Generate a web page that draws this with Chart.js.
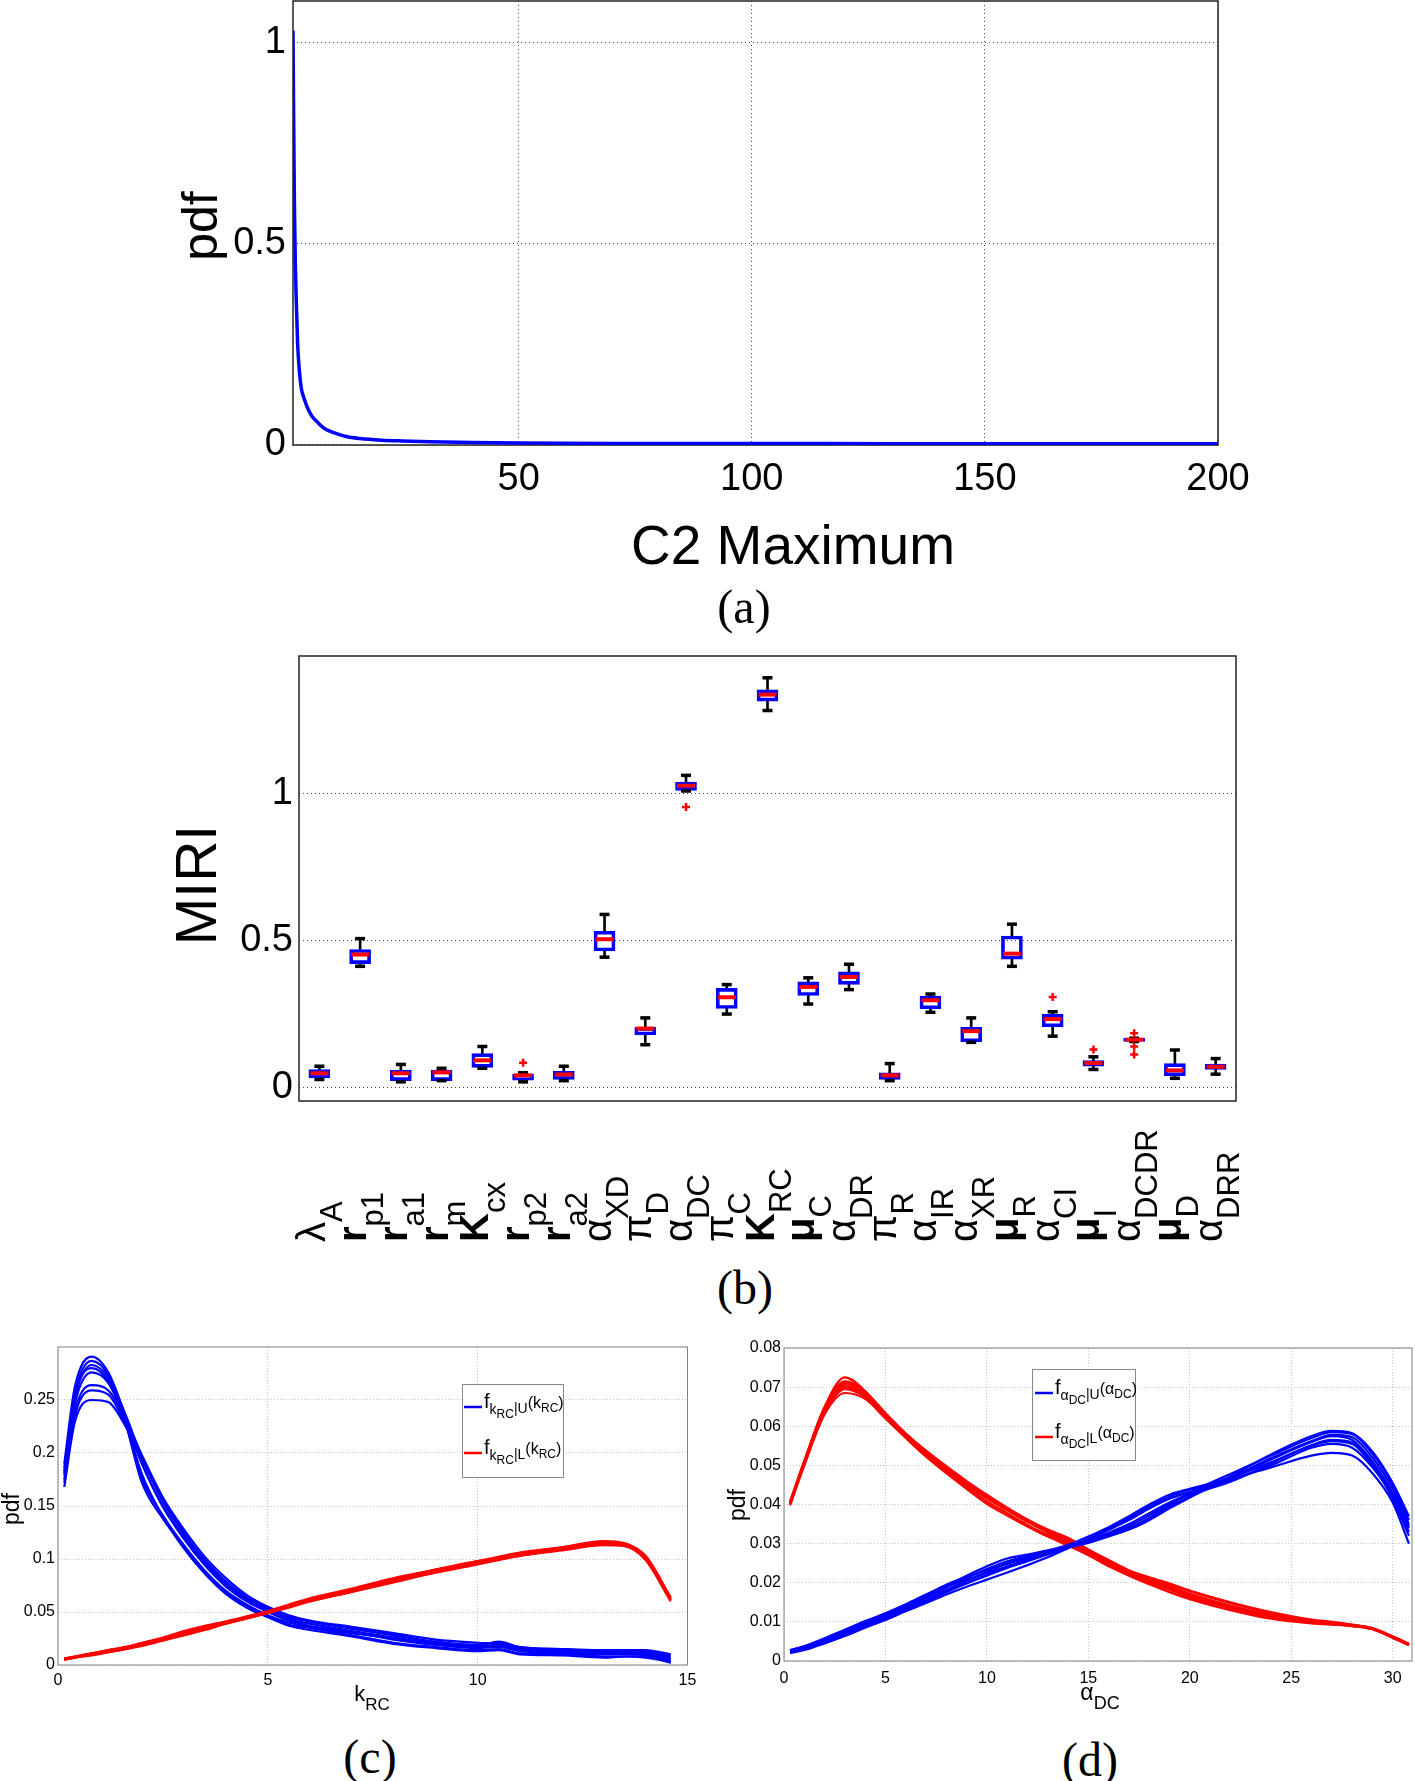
<!DOCTYPE html>
<html>
<head>
<meta charset="utf-8">
<script src="https://cdn.jsdelivr.net/npm/chart.js@4.4.1/dist/chart.umd.min.js"></script>
<style>
  body { margin: 0; background: #fff; width: 1415px; height: 1781px; position: relative; overflow: hidden; }
  canvas { position: absolute; }
  .cap { position: absolute; font: 48px "Liberation Serif", "Times New Roman", serif; line-height: 1; transform: translate(-50%, -50%); color: #000; }
</style>
</head>
<body>
<canvas id="chartA" width="1415" height="590" style="left:0;top:0"></canvas>
<canvas id="chartB" width="1415" height="620" style="left:0;top:640px"></canvas>
<canvas id="chartC" width="707" height="390" style="left:0;top:1330px"></canvas>
<canvas id="chartD" width="708" height="390" style="left:707px;top:1330px"></canvas>
<div class="cap" style="left:744px;top:607px">(a)</div>
<div class="cap" style="left:745px;top:1288px">(b)</div>
<div class="cap" style="left:370px;top:1757px">(c)</div>
<div class="cap" style="left:1090px;top:1760px">(d)</div>

<script>
// Datos del panel (a): pdf del máximo de C2
const c2Max = [1.6, 1.65, 1.75, 1.9, 2.1, 2.3, 2.6, 3.0, 3.4, 4.0, 4.8, 5.6, 7.0, 8.6, 10.5, 13, 16, 20.6, 25, 31, 40, 50, 70, 100, 130, 160, 200];
const c2Pdf = [1.03, 0.95, 0.8, 0.6, 0.45, 0.36, 0.25, 0.18, 0.14, 0.115, 0.09, 0.073, 0.055, 0.039, 0.03, 0.021, 0.016, 0.012, 0.01, 0.008, 0.006, 0.005, 0.004, 0.004, 0.003, 0.003, 0.003];
const c2XTicks = [50, 100, 150, 200];
const c2YTicks = [0, 0.5, 1];

// Datos del panel (b): boxplot del MIRI por parámetro
const miriSymbols = ['λ', 'r', 'r', 'r', 'K', 'r', 'r', 'α', 'π', 'α', 'π', 'K', 'μ', 'α', 'π', 'α', 'α', 'μ', 'α', 'μ', 'α', 'μ', 'α'];
const miriSubs = ['A', 'p1', 'a1', 'm', 'cx', 'p2', 'a2', 'XD', 'D', 'DC', 'C', 'RC', 'C', 'DR', 'R', 'IR', 'XR', 'R', 'CI', 'I', 'DCDR', 'D', 'DRR'];
const miriHigh = [0.073, 0.506, 0.079, 0.066, 0.140, 0.051, 0.073, 0.588, 0.237, 1.060, 0.350, 1.391, 0.373, 0.419, 0.082, 0.318, 0.237, 0.555, 0.258, 0.105, 0.168, 0.128, 0.099];
const miriQ3 = [0.062, 0.469, 0.060, 0.060, 0.116, 0.046, 0.056, 0.531, 0.205, 1.037, 0.337, 1.350, 0.359, 0.393, 0.051, 0.311, 0.205, 0.515, 0.250, 0.092, 0.168, 0.082, 0.080];
const miriMedian = [0.049, 0.452, 0.049, 0.052, 0.093, 0.042, 0.045, 0.504, 0.201, 1.025, 0.307, 1.334, 0.342, 0.376, 0.042, 0.297, 0.192, 0.455, 0.233, 0.084, 0.163, 0.059, 0.071];
const miriQ1 = [0.034, 0.421, 0.024, 0.024, 0.069, 0.026, 0.028, 0.464, 0.179, 1.009, 0.269, 1.312, 0.313, 0.351, 0.028, 0.268, 0.156, 0.436, 0.207, 0.073, 0.157, 0.040, 0.062];
const miriLow = [0.028, 0.412, 0.020, 0.024, 0.066, 0.020, 0.024, 0.443, 0.146, 1.007, 0.250, 1.280, 0.284, 0.333, 0.024, 0.256, 0.154, 0.412, 0.175, 0.062, 0.157, 0.032, 0.046];
const miriOutlierIdx = [6, 10, 19, 20, 21, 21, 21];
const miriOutlierVal = [0.085, 0.953, 0.308, 0.130, 0.185, 0.140, 0.113];
const miriYTicks = [0, 0.5, 1];

// Datos del panel (c): pdf de k_RC
const kRcX = [0.15, 0.4, 0.8, 1.2, 1.6, 2.0, 2.5, 3.0, 3.5, 4.0, 4.5, 5.0, 5.5, 6.0, 7.0, 8.0, 9.0, 10.0, 10.5, 11.0, 12.0, 13.0, 13.5, 14.0, 14.6];
const kRcPdfU = [
  [0.190, 0.262, 0.291, 0.276, 0.236, 0.190, 0.150, 0.121, 0.096, 0.076, 0.062, 0.052, 0.045, 0.041, 0.034, 0.028, 0.022, 0.019, 0.021, 0.017, 0.014, 0.013, 0.012, 0.012, 0.007],
  [0.186, 0.256, 0.287, 0.273, 0.230, 0.176, 0.141, 0.113, 0.089, 0.070, 0.057, 0.047, 0.040, 0.036, 0.030, 0.025, 0.020, 0.017, 0.018, 0.015, 0.012, 0.011, 0.011, 0.010, 0.005],
  [0.181, 0.251, 0.283, 0.271, 0.237, 0.196, 0.154, 0.124, 0.099, 0.079, 0.064, 0.053, 0.045, 0.041, 0.035, 0.029, 0.021, 0.018, 0.022, 0.017, 0.015, 0.013, 0.014, 0.013, 0.009],
  [0.179, 0.246, 0.276, 0.266, 0.229, 0.172, 0.138, 0.112, 0.088, 0.069, 0.056, 0.046, 0.038, 0.035, 0.028, 0.021, 0.017, 0.014, 0.015, 0.011, 0.010, 0.008, 0.008, 0.007, 0.003],
  [0.175, 0.239, 0.264, 0.259, 0.233, 0.198, 0.158, 0.128, 0.102, 0.082, 0.066, 0.055, 0.047, 0.042, 0.036, 0.030, 0.024, 0.021, 0.020, 0.016, 0.015, 0.014, 0.014, 0.014, 0.010],
  [0.172, 0.235, 0.259, 0.255, 0.228, 0.190, 0.149, 0.119, 0.094, 0.074, 0.060, 0.050, 0.042, 0.037, 0.031, 0.024, 0.019, 0.016, 0.017, 0.013, 0.011, 0.010, 0.010, 0.009, 0.004],
  [0.168, 0.229, 0.250, 0.248, 0.226, 0.194, 0.156, 0.125, 0.098, 0.077, 0.062, 0.051, 0.043, 0.039, 0.032, 0.026, 0.020, 0.017, 0.019, 0.014, 0.013, 0.011, 0.012, 0.011, 0.006],
  [0.183, 0.253, 0.280, 0.268, 0.231, 0.180, 0.140, 0.110, 0.086, 0.067, 0.054, 0.045, 0.037, 0.033, 0.027, 0.020, 0.016, 0.013, 0.014, 0.010, 0.009, 0.007, 0.008, 0.008, 0.002]
];
const kRcPdfL = [
  [0.005, 0.007, 0.010, 0.013, 0.016, 0.019, 0.024, 0.030, 0.035, 0.040, 0.045, 0.050, 0.056, 0.062, 0.071, 0.080, 0.089, 0.097, 0.101, 0.104, 0.109, 0.115, 0.113, 0.101, 0.062],
  [0.006, 0.008, 0.011, 0.014, 0.017, 0.021, 0.026, 0.032, 0.037, 0.041, 0.046, 0.051, 0.057, 0.063, 0.072, 0.082, 0.090, 0.098, 0.102, 0.106, 0.111, 0.117, 0.115, 0.103, 0.064],
  [0.005, 0.007, 0.010, 0.012, 0.015, 0.018, 0.023, 0.028, 0.033, 0.039, 0.044, 0.049, 0.055, 0.060, 0.069, 0.078, 0.087, 0.095, 0.099, 0.103, 0.108, 0.113, 0.112, 0.099, 0.060],
  [0.006, 0.007, 0.010, 0.013, 0.016, 0.020, 0.025, 0.031, 0.036, 0.041, 0.045, 0.050, 0.056, 0.061, 0.070, 0.079, 0.088, 0.096, 0.100, 0.105, 0.110, 0.116, 0.114, 0.102, 0.063],
  [0.005, 0.007, 0.009, 0.012, 0.015, 0.019, 0.024, 0.029, 0.034, 0.039, 0.044, 0.049, 0.054, 0.060, 0.069, 0.079, 0.088, 0.096, 0.100, 0.103, 0.109, 0.114, 0.113, 0.100, 0.061],
  [0.006, 0.008, 0.011, 0.014, 0.017, 0.020, 0.025, 0.031, 0.036, 0.040, 0.045, 0.050, 0.055, 0.062, 0.071, 0.081, 0.090, 0.098, 0.101, 0.105, 0.111, 0.116, 0.114, 0.100, 0.062]
];
const kRcXTicks = [0, 5, 10, 15];
const kRcYTicks = [0, 0.05, 0.1, 0.15, 0.2, 0.25];

// Datos del panel (d): pdf de alpha_DC
const aDcX = [0.3, 1, 2, 3, 4, 5, 6, 7, 8, 9, 10, 11, 12, 13, 14, 15, 16, 17, 18, 19, 20, 22, 24, 26, 27, 28, 29, 30, 30.8];
const aDcPdfU = [
  [0.0025, 0.0034, 0.0052, 0.0073, 0.0095, 0.0116, 0.0138, 0.0162, 0.0188, 0.0212, 0.0235, 0.0255, 0.0268, 0.0280, 0.0292, 0.0305, 0.0322, 0.0340, 0.0365, 0.0395, 0.0420, 0.0465, 0.0515, 0.0560, 0.0575, 0.0565, 0.0510, 0.0430, 0.0345],
  [0.0022, 0.0030, 0.0048, 0.0068, 0.0088, 0.0108, 0.0130, 0.0152, 0.0176, 0.0198, 0.0218, 0.0238, 0.0255, 0.0272, 0.0290, 0.0312, 0.0335, 0.0360, 0.0390, 0.0415, 0.0432, 0.0462, 0.0500, 0.0545, 0.0555, 0.0545, 0.0495, 0.0420, 0.0330],
  [0.0028, 0.0038, 0.0058, 0.0080, 0.0102, 0.0122, 0.0145, 0.0170, 0.0195, 0.0215, 0.0232, 0.0248, 0.0262, 0.0276, 0.0290, 0.0302, 0.0318, 0.0338, 0.0365, 0.0398, 0.0430, 0.0478, 0.0525, 0.0570, 0.0585, 0.0580, 0.0530, 0.0450, 0.0360],
  [0.0020, 0.0028, 0.0045, 0.0064, 0.0085, 0.0105, 0.0127, 0.0148, 0.0170, 0.0190, 0.0208, 0.0226, 0.0245, 0.0265, 0.0288, 0.0312, 0.0338, 0.0365, 0.0395, 0.0420, 0.0438, 0.0465, 0.0495, 0.0525, 0.0532, 0.0525, 0.0480, 0.0405, 0.0300],
  [0.0026, 0.0036, 0.0055, 0.0076, 0.0098, 0.0119, 0.0141, 0.0165, 0.0190, 0.0208, 0.0225, 0.0242, 0.0258, 0.0274, 0.0292, 0.0310, 0.0328, 0.0350, 0.0378, 0.0405, 0.0428, 0.0470, 0.0518, 0.0562, 0.0578, 0.0572, 0.0520, 0.0440, 0.0350],
  [0.0024, 0.0033, 0.0050, 0.0070, 0.0092, 0.0112, 0.0134, 0.0157, 0.0182, 0.0205, 0.0228, 0.0250, 0.0266, 0.0280, 0.0294, 0.0308, 0.0325, 0.0345, 0.0372, 0.0402, 0.0425, 0.0458, 0.0505, 0.0552, 0.0565, 0.0558, 0.0505, 0.0425, 0.0340],
  [0.0021, 0.0031, 0.0049, 0.0069, 0.0090, 0.0110, 0.0132, 0.0155, 0.0178, 0.0200, 0.0220, 0.0240, 0.0258, 0.0276, 0.0296, 0.0318, 0.0342, 0.0370, 0.0400, 0.0425, 0.0440, 0.0468, 0.0508, 0.0550, 0.0562, 0.0555, 0.0500, 0.0415, 0.0320],
  [0.0027, 0.0037, 0.0056, 0.0078, 0.0100, 0.0121, 0.0143, 0.0166, 0.0192, 0.0218, 0.0242, 0.0262, 0.0272, 0.0283, 0.0296, 0.0308, 0.0320, 0.0336, 0.0360, 0.0390, 0.0418, 0.0472, 0.0528, 0.0575, 0.0588, 0.0582, 0.0535, 0.0455, 0.0370]
];
const aDcPdfL = [
  [0.0405, 0.0510, 0.0650, 0.0725, 0.0690, 0.0630, 0.0575, 0.0530, 0.0490, 0.0450, 0.0415, 0.0385, 0.0355, 0.0330, 0.0305, 0.0278, 0.0252, 0.0228, 0.0208, 0.0190, 0.0172, 0.0142, 0.0118, 0.0102, 0.0097, 0.0092, 0.0083, 0.0062, 0.0043],
  [0.0400, 0.0505, 0.0640, 0.0705, 0.0680, 0.0628, 0.0578, 0.0535, 0.0495, 0.0458, 0.0422, 0.0390, 0.0360, 0.0333, 0.0310, 0.0280, 0.0255, 0.0230, 0.0212, 0.0195, 0.0178, 0.0148, 0.0122, 0.0104, 0.0098, 0.0091, 0.0082, 0.0060, 0.0041],
  [0.0402, 0.0502, 0.0635, 0.0695, 0.0675, 0.0625, 0.0572, 0.0525, 0.0485, 0.0445, 0.0408, 0.0378, 0.0348, 0.0322, 0.0300, 0.0272, 0.0245, 0.0220, 0.0200, 0.0182, 0.0162, 0.0135, 0.0112, 0.0098, 0.0094, 0.0090, 0.0082, 0.0061, 0.0042],
  [0.0408, 0.0512, 0.0645, 0.0710, 0.0685, 0.0632, 0.0580, 0.0538, 0.0498, 0.0460, 0.0425, 0.0392, 0.0362, 0.0336, 0.0315, 0.0285, 0.0258, 0.0232, 0.0214, 0.0198, 0.0180, 0.0150, 0.0125, 0.0106, 0.0100, 0.0093, 0.0084, 0.0063, 0.0044],
  [0.0398, 0.0500, 0.0630, 0.0685, 0.0670, 0.0620, 0.0570, 0.0522, 0.0480, 0.0440, 0.0402, 0.0372, 0.0344, 0.0318, 0.0295, 0.0270, 0.0242, 0.0218, 0.0196, 0.0176, 0.0158, 0.0130, 0.0108, 0.0096, 0.0093, 0.0089, 0.0081, 0.0059, 0.0040],
  [0.0404, 0.0508, 0.0642, 0.0700, 0.0678, 0.0626, 0.0576, 0.0532, 0.0492, 0.0452, 0.0418, 0.0386, 0.0358, 0.0331, 0.0312, 0.0284, 0.0250, 0.0225, 0.0205, 0.0188, 0.0170, 0.0140, 0.0116, 0.0100, 0.0096, 0.0091, 0.0083, 0.0061, 0.0042],
  [0.0406, 0.0509, 0.0648, 0.0715, 0.0688, 0.0634, 0.0582, 0.0536, 0.0494, 0.0455, 0.0420, 0.0388, 0.0357, 0.0328, 0.0302, 0.0276, 0.0248, 0.0224, 0.0204, 0.0186, 0.0166, 0.0138, 0.0114, 0.0101, 0.0095, 0.0090, 0.0082, 0.0062, 0.0043]
];
const aDcXTicks = [0, 5, 10, 15, 20, 25, 30];
const aDcYTicks = [0, 0.01, 0.02, 0.03, 0.04, 0.05, 0.06, 0.07, 0.08];

// Utils
const FONT = '"Liberation Sans", Arial, Helvetica, sans-serif';
const BLUE = '#0000ff';
const RED = '#ff0000';
Chart.defaults.font.family = FONT;
Chart.defaults.color = '#000';

// Fija el tamaño del eje y quita el relleno automático de las etiquetas
const fixAxis = (size) => (s) => {
    if (s.isHorizontal()) s.height = size; else s.width = size;
    s.paddingLeft = 0; s.paddingRight = 0; s.paddingTop = 0; s.paddingBottom = 0;
};
const setTicks = (values) => (s) => { s.ticks = values.map(v => ({ value: v })); };

// Texto con subíndices: parts = [texto, tamaño, desplazamiento, peso]
function richWidth(ctx, parts) {
    let w = 0;
    parts.forEach(([t, size, dy, weight]) => {
        ctx.font = `${weight || 'normal'} ${size}px ${FONT}`;
        w += ctx.measureText(t).width;
    });
    return w;
}
function drawRich(ctx, x, y, parts, align) {
    let cx = align === 'center' ? x - richWidth(ctx, parts) / 2 : x;
    ctx.textAlign = 'left';
    ctx.textBaseline = 'alphabetic';
    parts.forEach(([t, size, dy, weight]) => {
        ctx.font = `${weight || 'normal'} ${size}px ${FONT}`;
        ctx.fillText(t, cx, y + dy);
        cx += ctx.measureText(t).width;
    });
}
function drawTitle(ctx, text, size, x, y, rotate) {
    ctx.save();
    ctx.translate(x, y);
    if (rotate) ctx.rotate(-Math.PI / 2);
    ctx.font = `${size}px ${FONT}`;
    ctx.fillStyle = '#000';
    ctx.textAlign = 'center';
    ctx.textBaseline = 'middle';
    ctx.fillText(text, 0, 0);
    ctx.restore();
}

// Marco alrededor del área del gráfico (estilo MATLAB)
const framePlugin = (color, width) => ({
    id: 'frame',
    beforeDatasetsDraw(chart) {
        const { ctx, chartArea: a } = chart;
        ctx.save();
        ctx.strokeStyle = color;
        ctx.lineWidth = width;
        ctx.strokeRect(a.left, a.top, a.right - a.left, a.bottom - a.top);
        ctx.restore();
    }
});

const curve = (xs, ys, color, width) => ({
    type: 'line',
    data: xs.map((x, i) => ({ x, y: ys[i] })),
    borderColor: color,
    borderWidth: width,
    pointRadius: 0,
    fill: false,
    cubicInterpolationMode: 'monotone'
});

const baseOptions = (padding) => ({
    responsive: false,
    animation: false,
    events: [],
    layout: { padding, autoPadding: false },
    plugins: { legend: { display: false }, tooltip: { enabled: false } }
});

const axis = (cfg) => ({
    type: 'linear',
    min: cfg.min,
    max: cfg.max,
    offset: false,
    afterBuildTicks: setTicks(cfg.ticks),
    afterFit: fixAxis(cfg.size),
    ticks: {
        display: cfg.showTicks !== false,
        font: { size: cfg.font },
        color: '#000',
        padding: cfg.pad,
        autoSkip: false,
        maxRotation: 0,
        callback: (v) => String(v)
    },
    grid: { display: cfg.grid !== false, drawTicks: false, color: cfg.gridColor, lineWidth: 1 },
    border: { display: false, dash: cfg.dash }
});

// Panel (a)
new Chart(document.getElementById('chartA'), {
    type: 'line',
    data: { datasets: [curve(c2Max, c2Pdf, BLUE, 3.5)] },
    options: {
        ...baseOptions({ left: 150, right: 197, top: 1, bottom: 0 }),
        scales: {
            x: axis({ min: 1.6, max: 200, ticks: c2XTicks, size: 145, font: 38, pad: 12, gridColor: '#444', dash: [1, 3] }),
            y: axis({ min: 0, max: 1.104, ticks: c2YTicks, size: 143, font: 38, pad: 7, gridColor: '#444', dash: [1, 3] })
        }
    },
    plugins: [framePlugin('#222', 1.5), {
        id: 'titlesA',
        afterDraw(chart) {
            drawTitle(chart.ctx, 'pdf', 50, 203, 226, true);
            drawTitle(chart.ctx, 'C2 Maximum', 55, 793, 549, false);
        }
    }]
});

// Panel (b)
const miriIdx = miriSymbols.map((_, i) => i + 1);
const boldSymbols = ['r', 'K', 'μ'];
new Chart(document.getElementById('chartB'), {
    type: 'bar',
    data: {
        datasets: [
            { type: 'line', showLine: false, data: miriIdx.map((x, i) => ({ x, y: miriMedian[i] })),
              pointStyle: 'line', pointRadius: 9, pointBorderWidth: 4, pointBorderColor: RED, order: 0 },
            { type: 'line', showLine: false, data: miriOutlierIdx.map((x, i) => ({ x, y: miriOutlierVal[i] })),
              pointStyle: 'cross', pointRadius: 4, pointBorderWidth: 2.5, pointBorderColor: RED, order: 0 },
            { type: 'line', showLine: false,
              data: miriIdx.map((x, i) => ({ x, y: miriHigh[i] })).concat(miriIdx.map((x, i) => ({ x, y: miriLow[i] }))),
              pointStyle: 'line', pointRadius: 5, pointBorderWidth: 3.5, pointBorderColor: '#000', order: 1 },
            { data: miriIdx.map((x, i) => ({ x, y: [miriQ1[i], miriQ3[i]] })), backgroundColor: 'rgba(0,0,0,0)',
              borderColor: BLUE, borderWidth: 3, borderSkipped: false, barThickness: 21, grouped: false, order: 2 },
            { data: miriIdx.map((x, i) => ({ x, y: [miriQ3[i], miriHigh[i]] })), backgroundColor: '#000',
              borderWidth: 0, barThickness: 2, grouped: false, order: 3 },
            { data: miriIdx.map((x, i) => ({ x, y: [miriLow[i], miriQ1[i]] })), backgroundColor: '#000',
              borderWidth: 0, barThickness: 2, grouped: false, order: 3 }
        ]
    },
    options: {
        ...baseOptions({ left: 150, right: 179, top: 16, bottom: 0 }),
        scales: {
            x: axis({ min: 0.5, max: 23.5, ticks: miriIdx, size: 159, font: 10, pad: 0, showTicks: false, grid: false }),
            y: axis({ min: -0.045, max: 1.465, ticks: miriYTicks, size: 149, font: 38, pad: 6, gridColor: '#444', dash: [1, 3] })
        }
    },
    plugins: [framePlugin('#222', 1.5), {
        id: 'labelsB',
        afterDraw(chart) {
            const { ctx } = chart;
            const xs = chart.scales.x;
            ctx.save();
            ctx.fillStyle = '#000';
            miriSymbols.forEach((sym, i) => {
                ctx.save();
                ctx.translate(xs.getPixelForValue(i + 1), 602);
                ctx.rotate(-Math.PI / 2);
                drawRich(ctx, 0, 6, [[sym, 40, 0, boldSymbols.includes(sym) ? '600' : 'normal'], [miriSubs[i], 31, 17]], 'left');
                ctx.restore();
            });
            ctx.restore();
            drawTitle(ctx, 'MIRI', 57, 200, 245, true);
        }
    }]
});

// Leyenda con subíndices para (c) y (d)
function drawLegend(ctx, box, rows) {
    ctx.save();
    ctx.fillStyle = '#fff';
    ctx.fillRect(box.x, box.y, box.w, box.h);
    ctx.strokeStyle = '#888';
    ctx.lineWidth = 1;
    ctx.strokeRect(box.x + 0.5, box.y + 0.5, box.w, box.h);
    rows.forEach(r => {
        ctx.strokeStyle = r.color;
        ctx.lineWidth = 2.5;
        ctx.beginPath();
        ctx.moveTo(r.x1, r.y);
        ctx.lineTo(r.x2, r.y);
        ctx.stroke();
        ctx.fillStyle = '#000';
        drawRich(ctx, r.x2 + 2, r.y + 1, r.parts, 'left');
    });
    ctx.restore();
}

// Panel (c)
new Chart(document.getElementById('chartC'), {
    type: 'line',
    data: {
        datasets: [
            ...kRcPdfL.map(ys => curve(kRcX, ys, RED, 2.2)),
            ...kRcPdfU.map(ys => curve(kRcX, ys, BLUE, 2.2))
        ]
    },
    options: {
        ...baseOptions({ left: 0, right: 19.5, top: 17, bottom: 0 }),
        scales: {
            x: axis({ min: 0, max: 15, ticks: kRcXTicks, size: 55, font: 16, pad: 6, gridColor: '#c4c4c4', dash: [1, 2] }),
            y: axis({ min: 0, max: 0.3, ticks: kRcYTicks, size: 58, font: 16, pad: 3, gridColor: '#c4c4c4', dash: [1, 2] })
        }
    },
    plugins: [framePlugin('#808080', 1), {
        id: 'textC',
        afterDraw(chart) {
            const { ctx } = chart;
            drawTitle(ctx, 'pdf', 23, 13, 179, true);
            ctx.fillStyle = '#000';
            drawRich(ctx, 372, 371, [['k', 22, 0], ['RC', 17, 9]], 'center');
            drawLegend(ctx, { x: 462, y: 54, w: 101, h: 93 }, [
                { color: BLUE, x1: 464, x2: 482, y: 77,
                  parts: [['f', 20, 0], ['k', 14, 6], ['RC', 12, 10], ['|U', 14, 5], ['(k', 16, 0], ['RC', 12, 4], [')', 16, 0]] },
                { color: RED, x1: 464, x2: 482, y: 123,
                  parts: [['f', 20, 0], ['k', 14, 6], ['RC', 12, 10], ['|L', 14, 5], ['(k', 16, 0], ['RC', 12, 4], [')', 16, 0]] }
            ]);
        }
    }]
});

// Panel (d)
new Chart(document.getElementById('chartD'), {
    type: 'line',
    data: {
        datasets: [
            ...aDcPdfU.map(ys => curve(aDcX, ys, BLUE, 2.2)),
            ...aDcPdfL.map(ys => curve(aDcX, ys, RED, 2.2))
        ]
    },
    options: {
        ...baseOptions({ left: 0, right: 3, top: 18, bottom: 0 }),
        scales: {
            x: axis({ min: 0, max: 30.95, ticks: aDcXTicks, size: 59, font: 16, pad: 8, gridColor: '#c4c4c4', dash: [1, 2] }),
            y: axis({ min: 0, max: 0.08, ticks: aDcYTicks, size: 77, font: 16, pad: 3, gridColor: '#c4c4c4', dash: [1, 2] })
        }
    },
    plugins: [framePlugin('#808080', 1), {
        id: 'textD',
        afterDraw(chart) {
            const { ctx } = chart;
            drawTitle(ctx, 'pdf', 23, 32, 175, true);
            ctx.fillStyle = '#000';
            drawRich(ctx, 393, 370, [['α', 23, 0], ['DC', 18, 9]], 'center');
            drawLegend(ctx, { x: 325, y: 39, w: 103, h: 91 }, [
                { color: BLUE, x1: 328, x2: 346, y: 63,
                  parts: [['f', 20, 0], ['α', 14, 6], ['DC', 12, 10], ['|U', 14, 5], ['(α', 16, 0], ['DC', 12, 4], [')', 16, 0]] },
                { color: RED, x1: 328, x2: 346, y: 107,
                  parts: [['f', 20, 0], ['α', 14, 6], ['DC', 12, 10], ['|L', 14, 5], ['(α', 16, 0], ['DC', 12, 4], [')', 16, 0]] }
            ]);
        }
    }]
});
</script>
</body>
</html>
